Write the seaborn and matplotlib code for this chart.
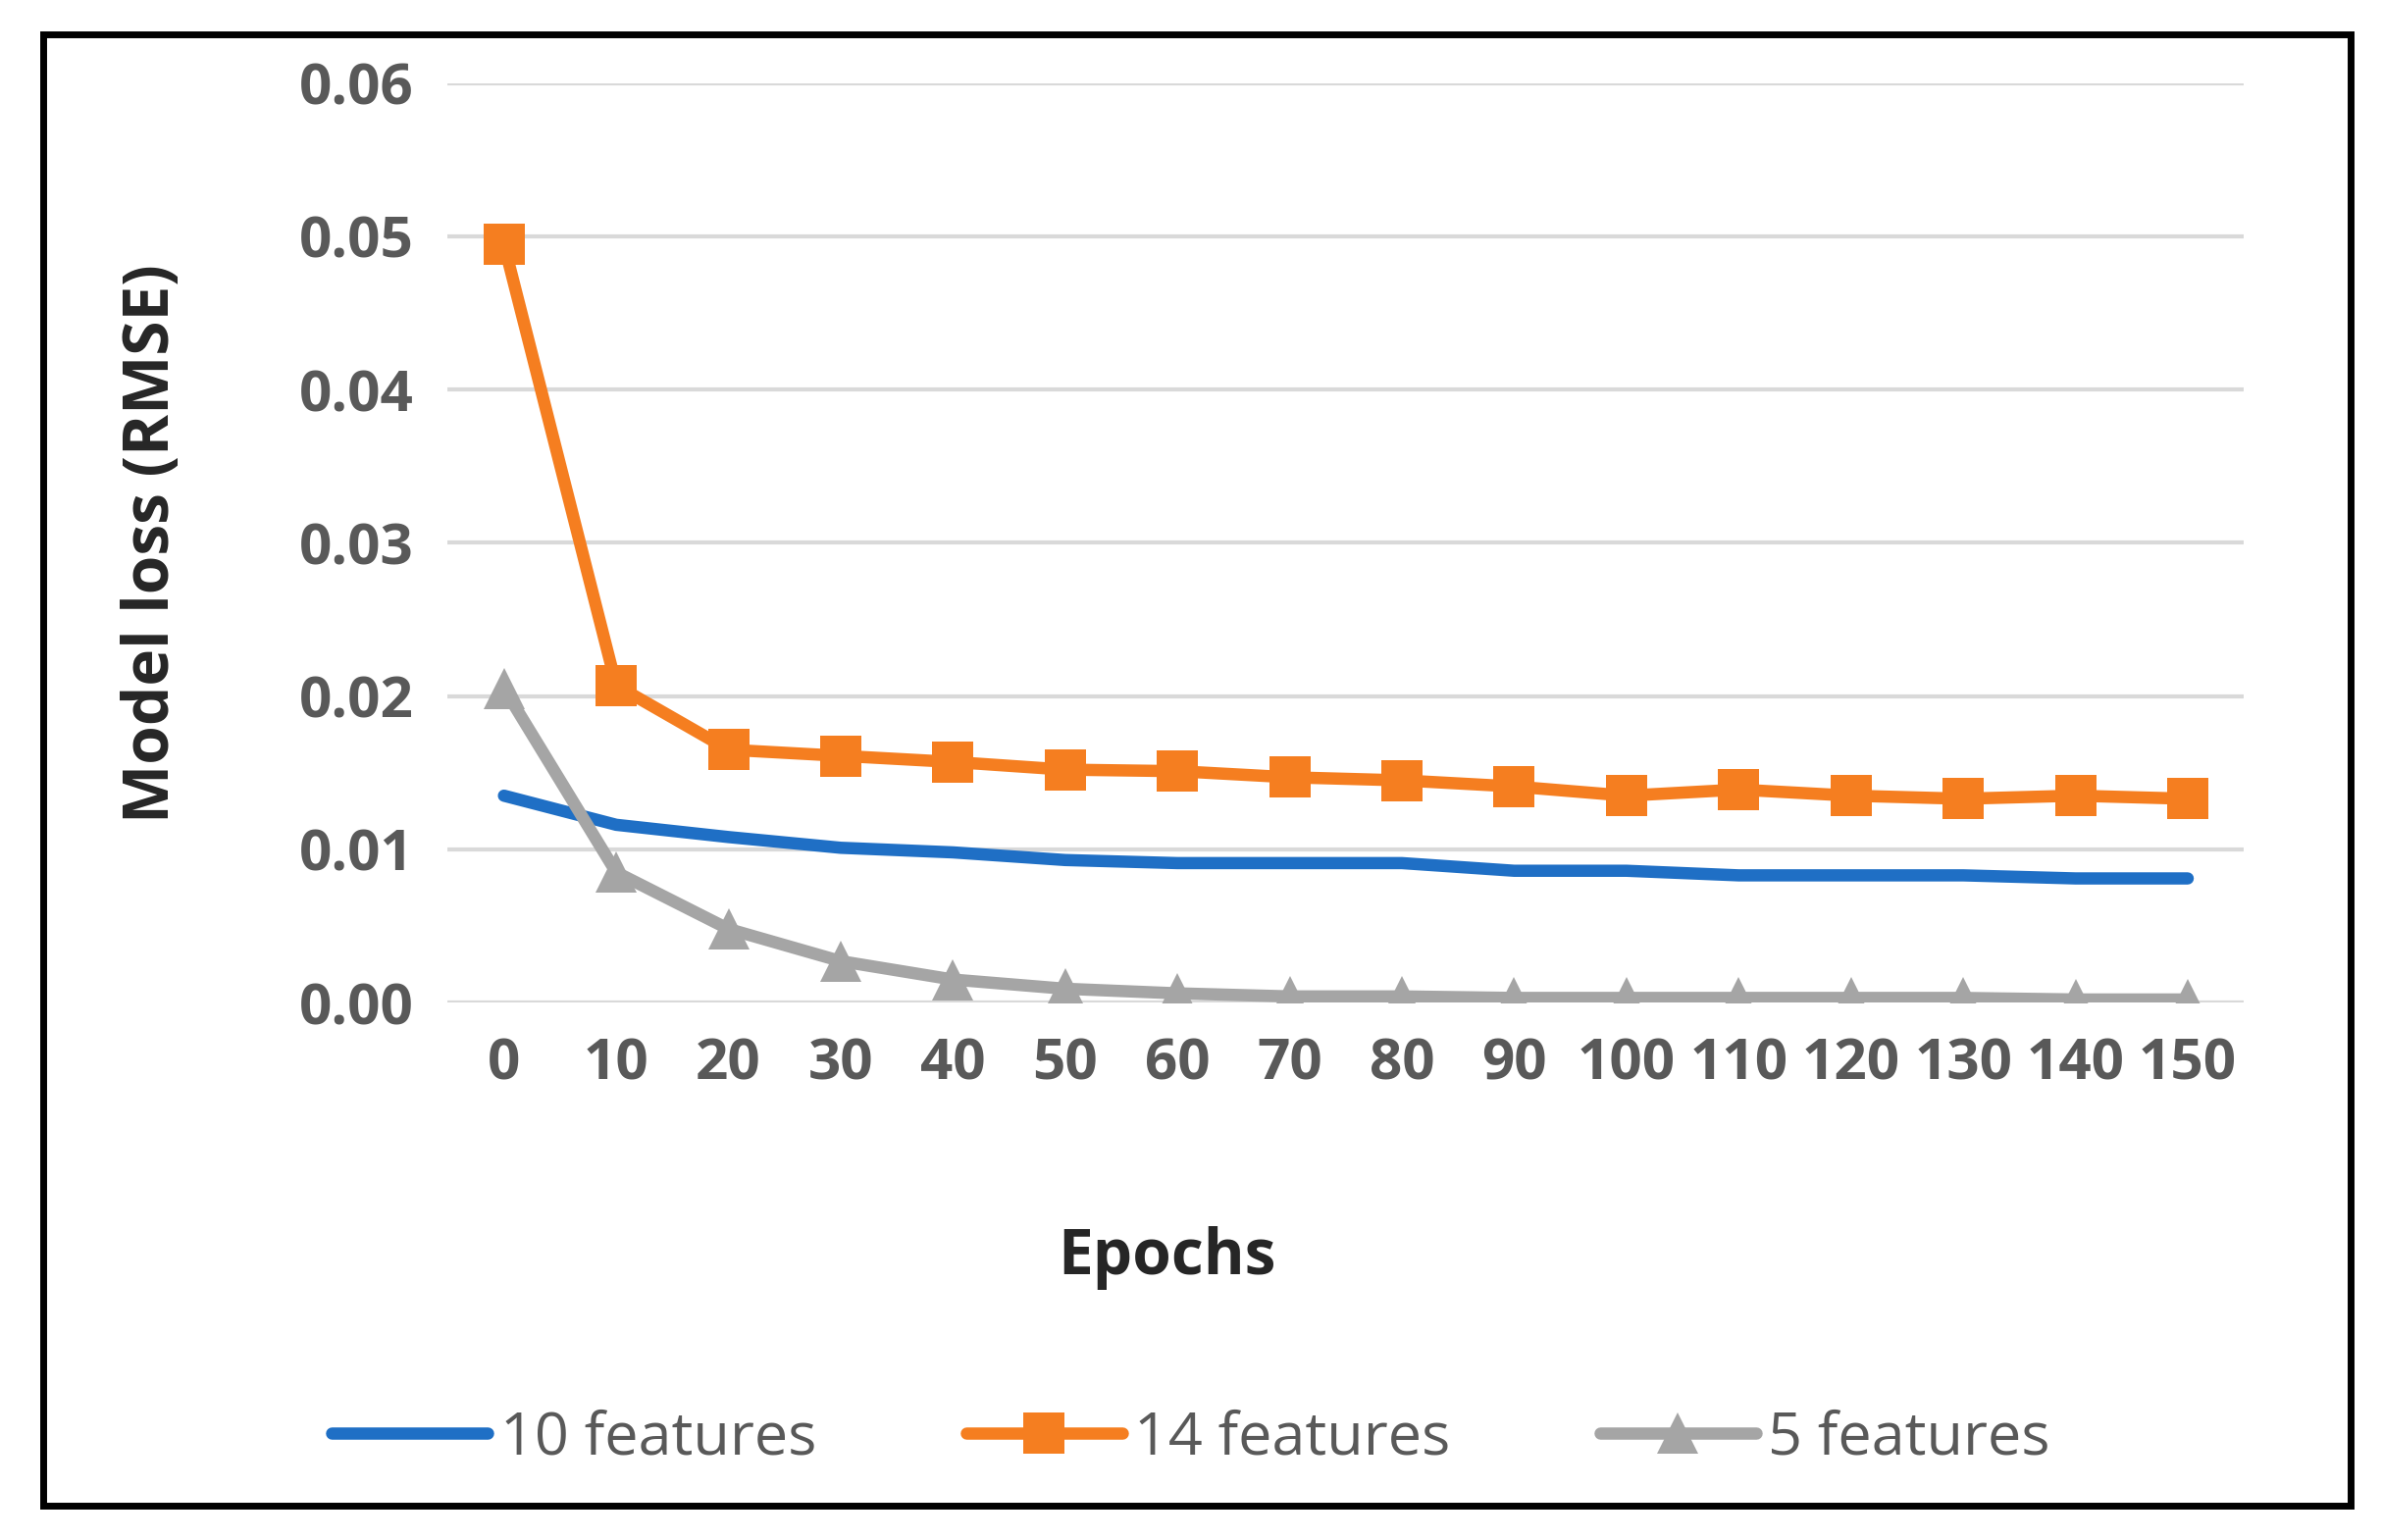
import pandas as pd
import matplotlib.pyplot as plt
import seaborn as sns
from matplotlib.patches import Rectangle

# ── data ─────────────────────────────────────────────────
epochs = [0, 10, 20, 30, 40, 50, 60, 70, 80, 90, 100, 110, 120, 130, 140, 150]
feat10 = [0.0135, 0.0116, 0.0108, 0.0101, 0.0098, 0.0093, 0.0091, 0.0091,
          0.0091, 0.0086, 0.0086, 0.0083, 0.0083, 0.0083, 0.0081, 0.0081]
feat14 = [0.0495, 0.0207, 0.0165, 0.0161, 0.0157, 0.0152, 0.0151, 0.0147,
          0.0145, 0.0141, 0.0135, 0.0139, 0.0135, 0.0133, 0.0135, 0.0133]
feat5 = [0.0205, 0.0085, 0.0048, 0.0027, 0.0015, 0.0009, 0.0006, 0.0004,
         0.0004, 0.0003, 0.0003, 0.0003, 0.0003, 0.0003, 0.0002, 0.0002]
series = {'10 features': feat10, '14 features': feat14, '5 features': feat5}
colors = {'10 features': '#1F6FC5', '14 features': '#F57E20', '5 features': '#A5A5A5'}
markers = {'10 features': None, '14 features': 's', '5 features': '^'}

sns.set_style('white')
plt.rcParams['font.family'] = ['Open Sans', 'DejaVu Sans']

fig = plt.figure(figsize=(24.28, 15.70), dpi=100)
ax = fig.add_axes([0.188, 0.349, 0.754, 0.597])

pos = list(range(len(epochs)))
for name, vals in series.items():
    df = pd.DataFrame({'x': pos, 'y': vals})
    sns.lineplot(data=df, x='x', y='y', ax=ax, color=colors[name], linewidth=9,
                 marker=markers[name], markersize=30, markeredgewidth=0,
                 label=name)

ax.set_xlim(-0.5, len(epochs) - 0.5)
ax.set_ylim(0, 0.06)
ax.set_yticks([0, 0.01, 0.02, 0.03, 0.04, 0.05, 0.06])
ax.set_yticklabels([f'{v:.2f}' for v in ax.get_yticks()])
ax.set_xticks(pos)
ax.set_xticklabels([str(e) for e in epochs])
ax.yaxis.grid(True, color='#D9D9D9', linewidth=3)
ax.set_axisbelow(True)
for s in ax.spines.values():
    s.set_visible(False)
ax.tick_params(axis='both', length=0, labelsize=42, labelcolor='#595959', pad=25)
for t in ax.get_xticklabels() + ax.get_yticklabels():
    t.set_fontweight('bold')
ax.set_xlabel('')
ax.set_ylabel('')

fig.text(0.064, 0.647, 'Model loss (RMSE)', rotation=90, ha='center', va='center',
         fontsize=46, fontweight='bold')
fig.text(0.49, 0.183, 'Epochs', ha='center', va='center', fontsize=46, fontweight='bold')

ax.legend(loc='center', bbox_to_anchor=(0.5, 0.066), bbox_transform=fig.transFigure,
          ncol=3, frameon=False, fontsize=44, handlelength=2.6, columnspacing=2.5,
          handletextpad=0.2, labelcolor='#595959')

fig.patches.append(Rectangle((0.018, 0.022), 0.969, 0.956, transform=fig.transFigure,
                             fill=False, edgecolor='black', linewidth=5))

fig.savefig('out.png', dpi=100)
